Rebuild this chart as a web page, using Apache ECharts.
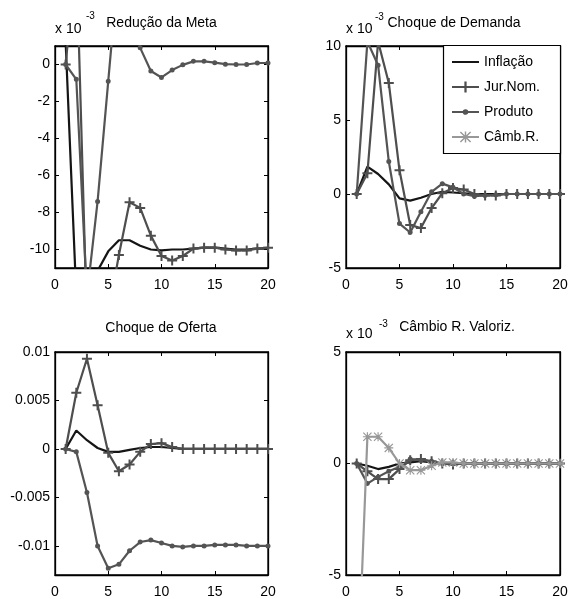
<!DOCTYPE html>
<html>
<head>
<meta charset="utf-8">
<script src="https://cdn.jsdelivr.net/npm/echarts@6/dist/echarts.min.js"></script>
<style>
  html, body { margin: 0; padding: 0; background: #fff; }
  #chart { width: 572px; height: 599px; }
</style>
</head>
<body>
<div id="chart"></div>
<script>
// Impulse responses over 20 periods, four shocks.
const periods = [1, 2, 3, 4, 5, 6, 7, 8, 9, 10, 11, 12, 13, 14, 15, 16, 17, 18, 19, 20];

// Redução da Meta (x 10^-3)
const metaInflacao = [1.2, -12.5, -14, -11.15, -10.1, -9.5, -9.5, -9.8, -10.0, -10.05, -10.0, -10.0, -9.95, -9.9, -9.9, -9.95, -10.0, -10.0, -9.95, -9.95];
const metaJuros    = [0, 6, -14, -16, -13.5, -10.3, -7.45, -7.75, -9.25, -10.35, -10.6, -10.35, -9.95, -9.9, -9.9, -10.0, -10.05, -10.05, -9.95, -9.9];
const metaProduto  = [0, -0.8, -12.5, -7.4, -0.9, 5.6, 4.0, 0.9, -0.35, -0.7, -0.3, -0.02, 0.17, 0.17, 0.1, 0.02, 0.0, 0.0, 0.08, 0.08];

// Choque de Demanda (x 10^-3)
const demInflacao = [0, 1.85, 1.35, 0.65, -0.3, -0.45, -0.25, 0.0, 0.15, 0.1, 0.05, 0, 0, 0, 0, 0, 0, 0, 0, 0];
const demJuros    = [0, 1.4, 10.3, 7.5, 1.6, -2.1, -2.3, -0.95, 0.05, 0.4, 0.3, 0, -0.1, -0.1, 0, 0, 0, 0, 0, 0];
const demProduto  = [0, 10.3, 8.7, 2.2, -2.0, -2.6, -1.2, 0.15, 0.7, 0.45, 0, -0.15, -0.1, -0.05, 0, 0, 0, 0, 0, 0];

// Choque de Oferta
const ofInflacao = [0, 0.0019, 0.0009, 0.0001, -0.0003, -0.0003, -0.0001, 0.0001, 0.0002, 0.0002, 0.0001, 0, 0, 0, 0, 0, 0, 0, 0, 0];
const ofJuros    = [0, 0.0058, 0.0093, 0.0045, -0.0004, -0.0023, -0.0016, -0.0003, 0.0005, 0.0006, 0.0002, 0, 0, 0, 0, 0, 0, 0, 0, 0];
const ofProduto  = [0, -0.0003, -0.0045, -0.0100, -0.0123, -0.0119, -0.0105, -0.0096, -0.0094, -0.0097, -0.0100, -0.0101, -0.0100, -0.0100, -0.0099, -0.0099, -0.0099, -0.0100, -0.0100, -0.0100];

// Câmbio R. Valoriz. (x 10^-3)
const camInflacao = [0, -0.1, -0.25, -0.15, 0, 0.05, 0.1, 0.05, 0, 0, 0, 0, 0, 0, 0, 0, 0, 0, 0, 0];
const camJuros    = [0, -0.35, -0.7, -0.7, -0.25, 0.15, 0.2, 0.1, 0, -0.05, 0, 0, 0, 0, 0, 0, 0, 0, 0, 0];
const camProduto  = [0, -0.9, -0.6, -0.35, -0.15, 0.2, 0.15, 0.1, 0, 0, 0, 0, 0, 0, 0, 0, 0, 0, 0, 0];
const camCambio   = [-11, 1.2, 1.2, 0.7, 0, -0.3, -0.3, -0.1, 0.05, 0.05, 0, 0, 0, 0, 0, 0, 0, 0, 0, 0];

const yTicksMeta = [-10, -8, -6, -4, -2, 0];
const yTicksDem = [-5, 0, 5, 10];
const yTicksOf = [-0.01, -0.005, 0, 0.005, 0.01];
const yTicksCam = [-5, 0, 5];

const seriesNames = ['Inflação', 'Jur.Nom.', 'Produto', 'Câmb.R.'];

const FONT = '"Liberation Sans", Arial, Helvetica, sans-serif';
const C_INF = '#151515';
const C_JUR = '#4e4e4e';
const C_PRO = '#545454';
const C_CAM = '#989898';

// Marker shapes; tiny corner specks keep a shape small inside its symbol box.
const NONE = 'path://M0,0h0.01v0.01h-0.01zM10,10h-0.01v-0.01h0.01z';
const PLUS = 'path://M4,0h2v4h4v2h-4v4h-2v-4h-4v-2h4z';
const DOT = 'path://M0,0h0.01v0.01h-0.01zM10,10h-0.01v-0.01h0.01zM5,2.5a2.5,2.5 0 1,1 -0.001,0z';
const STAR = 'path://M0.9,0L5,4.1L9.1,0L10,0.9L5.9,5L10,9.1L9.1,10L5,5.9L0.9,10L0,9.1L4.1,5L0,0.9Z' +
             'M4.35,0h1.3v4.35h4.35v1.3h-4.35v4.35h-1.3v-4.35h-4.35v-1.3h4.35z';

const panels = [
  { grid: { left: 55, top: 46, width: 213, height: 222 }, min: -11, max: 1, ticks: yTicksMeta,
    data: [metaInflacao, metaJuros, metaProduto, null] },
  { grid: { left: 346, top: 46, width: 214, height: 222 }, min: -5, max: 10, ticks: yTicksDem,
    data: [demInflacao, demJuros, demProduto, null] },
  { grid: { left: 55, top: 352, width: 213, height: 224 }, min: -0.013, max: 0.01, ticks: yTicksOf,
    data: [ofInflacao, ofJuros, ofProduto, null] },
  { grid: { left: 346, top: 352, width: 214, height: 224 }, min: -5, max: 5, ticks: yTicksCam,
    data: [camInflacao, camJuros, camProduto, camCambio] }
];

const styles = [
  { color: C_INF, symbol: NONE, symbolSize: 10, showSymbol: false },
  { color: C_JUR, symbol: PLUS, symbolSize: 10, showSymbol: true },
  { color: C_PRO, symbol: DOT, symbolSize: 10, showSymbol: true },
  { color: C_CAM, symbol: STAR, symbolSize: 9, showSymbol: true }
];

const grids = [], xAxes = [], yAxes = [], series = [];
const axisLine = { show: true, onZero: false, lineStyle: { color: '#000', width: 1.3 } };

panels.forEach((p, i) => {
  grids.push(Object.assign({ show: true, borderColor: '#000', borderWidth: 1.3, backgroundColor: '#fff' }, p.grid));
  const tick = { show: true, inside: true, length: 4, lineStyle: { color: '#000', width: 1 } };
  // bottom axis with labels, top mirror without labels
  xAxes.push({
    type: 'value', gridIndex: i, min: 0, max: 20, interval: 5, position: 'bottom',
    axisLine: axisLine, axisTick: tick, splitLine: { show: false },
    axisLabel: { color: '#000', fontSize: 14, fontFamily: FONT, margin: 10 }
  });
  xAxes.push({
    type: 'value', gridIndex: i, min: 0, max: 20, interval: 5, position: 'top',
    axisLine: axisLine, axisTick: tick, splitLine: { show: false }, axisLabel: { show: false }
  });
  yAxes.push({
    type: 'value', gridIndex: i, min: p.min, max: p.max, position: 'left',
    axisLine: axisLine,
    axisTick: Object.assign({ customValues: p.ticks }, tick), splitLine: { show: false },
    axisLabel: { color: '#000', fontSize: 14, fontFamily: FONT, margin: 5,
                 customValues: p.ticks, formatter: v => String(v) }
  });
  yAxes.push({
    type: 'value', gridIndex: i, min: p.min, max: p.max, position: 'right',
    axisLine: axisLine,
    axisTick: Object.assign({ customValues: p.ticks }, tick), splitLine: { show: false },
    axisLabel: { show: false }
  });
  p.data.forEach((vals, k) => {
    if (!vals) return;
    const st = styles[k];
    series.push({
      name: seriesNames[k], type: 'line', xAxisIndex: 2 * i, yAxisIndex: 2 * i,
      data: periods.map((x, j) => [x, vals[j]]),
      clip: true, symbol: st.symbol, symbolSize: st.symbolSize, showSymbol: st.showSymbol,
      lineStyle: { color: st.color, width: 2.2 },
      itemStyle: { color: st.color },
      emphasis: { disabled: true }, z: 2 + k
    });
  });
});

// Exponent notes, panel titles and the legend frame
function txt(x, y, text, size, align) {
  return { type: 'text', x: x, y: y, z: 100,
    style: { text: text, fill: '#000', font: size + 'px ' + FONT, align: align || 'left', verticalAlign: 'middle' } };
}
const graphics = [
  { type: 'rect', z: 40, shape: { x: 443.5, y: 45.5, width: 117, height: 108 },
    style: { fill: '#fff', stroke: '#000', lineWidth: 1.2 } },
  txt(55, 29, 'x 10', 14), txt(86, 16, '-3', 10),
  txt(346, 29, 'x 10', 14), txt(375, 17, '-3', 10),
  txt(346, 334, 'x 10', 14), txt(379, 324, '-3', 10),
  txt(161.5, 23, 'Redução da Meta', 14, 'center'),
  txt(454, 23, 'Choque de Demanda', 14, 'center'),
  txt(161, 328, 'Choque de Oferta', 14, 'center'),
  txt(457, 327, 'Câmbio R. Valoriz.', 14, 'center')
];

const chart = echarts.init(document.getElementById('chart'), null, { renderer: 'canvas' });
chart.setOption({
  animation: false,
  backgroundColor: '#fff',
  textStyle: { fontFamily: FONT },
  grid: grids, xAxis: xAxes, yAxis: yAxes, series: series,
  graphic: graphics,
  legend: {
    data: seriesNames, orient: 'vertical', left: 443, top: 46,
    padding: [9, 10, 11, 8], itemWidth: 27, itemHeight: 14, itemGap: 11, itemTextGap: 10,
    textStyle: { color: '#000', fontSize: 14, fontFamily: FONT },
    selectedMode: false, z: 50
  }
});
</script>
</body>
</html>
